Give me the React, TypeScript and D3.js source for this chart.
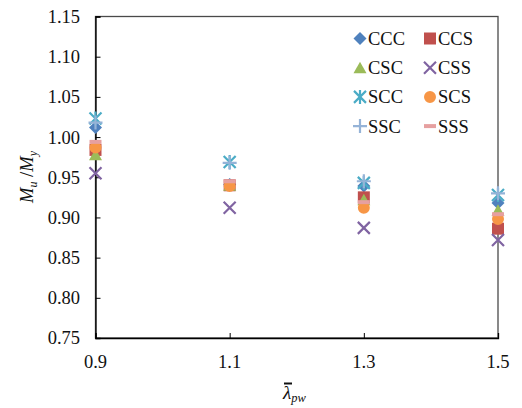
import React, { useRef, useEffect } from 'react';
import * as d3 from 'd3';

// slenderness values on x axis
const lambdas = [0.9, 1.1, 1.3, 1.5];

// Mu/My per series
const seriesNames = ['CCC', 'CCS', 'CSC', 'CSS', 'SCC', 'SCS', 'SSC', 'SSS'];
const ccc = [1.012, 0.941, 0.939, 0.918];
const ccs = [0.984, 0.940, 0.925, 0.886];
const csc = [0.978, 0.940, 0.922, 0.909];
const css = [0.955, 0.912, 0.887, 0.872];
const scc = [1.023, 0.969, 0.943, 0.928];
const scs = [0.987, 0.939, 0.912, 0.898];
const ssc = [1.018, 0.968, 0.945, 0.930];
const sss = [0.994, 0.945, 0.919, 0.904];

const yTicks = [0.75, 0.8, 0.85, 0.9, 0.95, 1.0, 1.05, 1.1, 1.15];

const serif = '"Times New Roman", "Liberation Serif", "DejaVu Serif", serif';

// marker path by series index (centered on 0,0)
const markerPath = (i: number): string => {
  switch (i) {
    case 0: return 'M0,-6.5L6.5,0L0,6.5L-6.5,0Z';
    case 1: return 'M-6,-6H6V6H-6Z';
    case 2: return 'M0,-6L6.5,5.5H-6.5Z';
    case 3: return 'M-6,-6L6,6M6,-6L-6,6';
    case 4: return 'M-6,-6L6,6M6,-6L-6,6M0,-7V7';
    case 5: return d3.symbol(d3.symbolCircle, 113)()!;
    case 6: return 'M-7,0H7M0,-7V7';
    default: return 'M-6,0H6';
  }
};
const filled = [true, true, true, false, false, true, false, false];
const colors = ['#4F81BD', '#C0504D', '#9BBB59', '#8064A2', '#4BACC6', '#F79646', '#95B3D7', '#E6A0A0'];

const App: React.FC = () => {
  const svgRef = useRef<SVGSVGElement>(null);

  useEffect(() => {
    if (!svgRef.current) return;
    const svg = d3.select(svgRef.current);
    svg.selectAll('*').remove();

    const left = 95.5, right = 498, top = 16.5, bottom = 338;
    const x = d3.scaleLinear().domain([0.9, 1.5]).range([left, right]);
    const y = d3.scaleLinear().domain([0.75, 1.15]).range([bottom, top]);

    const data = [ccc, ccs, csc, css, scc, scs, ssc, sss];

    // frame
    svg.append('rect')
      .attr('x', left).attr('y', top)
      .attr('width', right - left).attr('height', bottom - top)
      .attr('fill', 'none').attr('stroke', '#4a4a4a').attr('stroke-width', 1.3);

    // y axis
    const yAxis = svg.append('g')
      .attr('transform', `translate(${left},0)`)
      .call(d3.axisRight(y).tickValues(yTicks).tickSize(5).tickFormat(() => ''));
    yAxis.select('.domain').attr('stroke', '#000').attr('stroke-width', 1.3);
    yAxis.selectAll('.tick line').attr('stroke', '#000');

    yTicks.forEach(t => {
      svg.append('text')
        .attr('x', 80).attr('y', y(t)).attr('dy', '0.35em')
        .attr('text-anchor', 'end')
        .attr('font-family', serif).attr('font-size', 18.5).attr('fill', '#111')
        .text(d3.format('.2f')(t));
    });

    // x axis
    const xAxis = svg.append('g')
      .attr('transform', `translate(0,${bottom})`)
      .call(d3.axisTop(x).tickValues(lambdas).tickSize(5).tickFormat(() => ''));
    xAxis.select('.domain').attr('stroke', '#000').attr('stroke-width', 1.3);
    xAxis.selectAll('.tick line').attr('stroke', '#000');

    lambdas.forEach(t => {
      svg.append('text')
        .attr('x', x(t)).attr('y', 368)
        .attr('text-anchor', 'middle')
        .attr('font-family', serif).attr('font-size', 18.5).attr('fill', '#111')
        .text(d3.format('.1f')(t));
    });

    // axis titles
    const yt = svg.append('text')
      .attr('transform', 'translate(33,177) rotate(-90)')
      .attr('text-anchor', 'middle')
      .attr('font-family', serif).attr('font-size', 18.5).attr('fill', '#111');
    yt.append('tspan').attr('font-style', 'italic').text('M');
    yt.append('tspan').attr('font-style', 'italic').attr('font-size', 12).attr('dy', 4).text('u');
    yt.append('tspan').attr('dy', -4).text(' /');
    yt.append('tspan').attr('font-style', 'italic').text('M');
    yt.append('tspan').attr('font-style', 'italic').attr('font-size', 12).attr('dy', 4).text('y');

    const xt = svg.append('text')
      .attr('x', 283).attr('y', 399)
      .attr('font-family', serif).attr('font-size', 19).attr('fill', '#111');
    xt.append('tspan').attr('font-style', 'italic').text('λ');
    xt.append('tspan').attr('font-style', 'italic').attr('font-size', 12.5).attr('dy', 3).text('pw');
    svg.append('line')
      .attr('x1', 284).attr('x2', 292).attr('y1', 383.5).attr('y2', 383.5)
      .attr('stroke', '#111').attr('stroke-width', 2);

    // points
    data.forEach((vals, si) => {
      svg.append('g').selectAll('path')
        .data(vals)
        .join('path')
        .attr('transform', (d, i) => `translate(${x(lambdas[i])},${y(d)})`)
        .attr('d', markerPath(si))
        .attr('fill', filled[si] ? colors[si] : 'none')
        .attr('stroke', colors[si])
        .attr('stroke-width', filled[si] ? 0 : (si === 7 ? 4 : 2.2));
    });

    // legend
    const lg = svg.append('g');
    seriesNames.forEach((name, si) => {
      const col = si % 2, row = Math.floor(si / 2);
      const mx = col === 0 ? 360 : 430;
      const my = 38.5 + row * 29.2;
      lg.append('path')
        .attr('transform', `translate(${mx},${my})`)
        .attr('d', markerPath(si))
        .attr('fill', filled[si] ? colors[si] : 'none')
        .attr('stroke', colors[si])
        .attr('stroke-width', filled[si] ? 0 : (si === 7 ? 4 : 2.2));
      lg.append('text')
        .attr('x', mx + 8).attr('y', my).attr('dy', '0.35em')
        .attr('font-family', serif).attr('font-size', 18.5).attr('fill', '#111')
        .text(name);
    });
  }, []);

  return (
    <div style={{ position: 'absolute', left: 0, top: 0 }}>
      <svg ref={svgRef} width={522} height={408} style={{ display: 'block', background: '#fff' }} />
    </div>
  );
};

export default App;
